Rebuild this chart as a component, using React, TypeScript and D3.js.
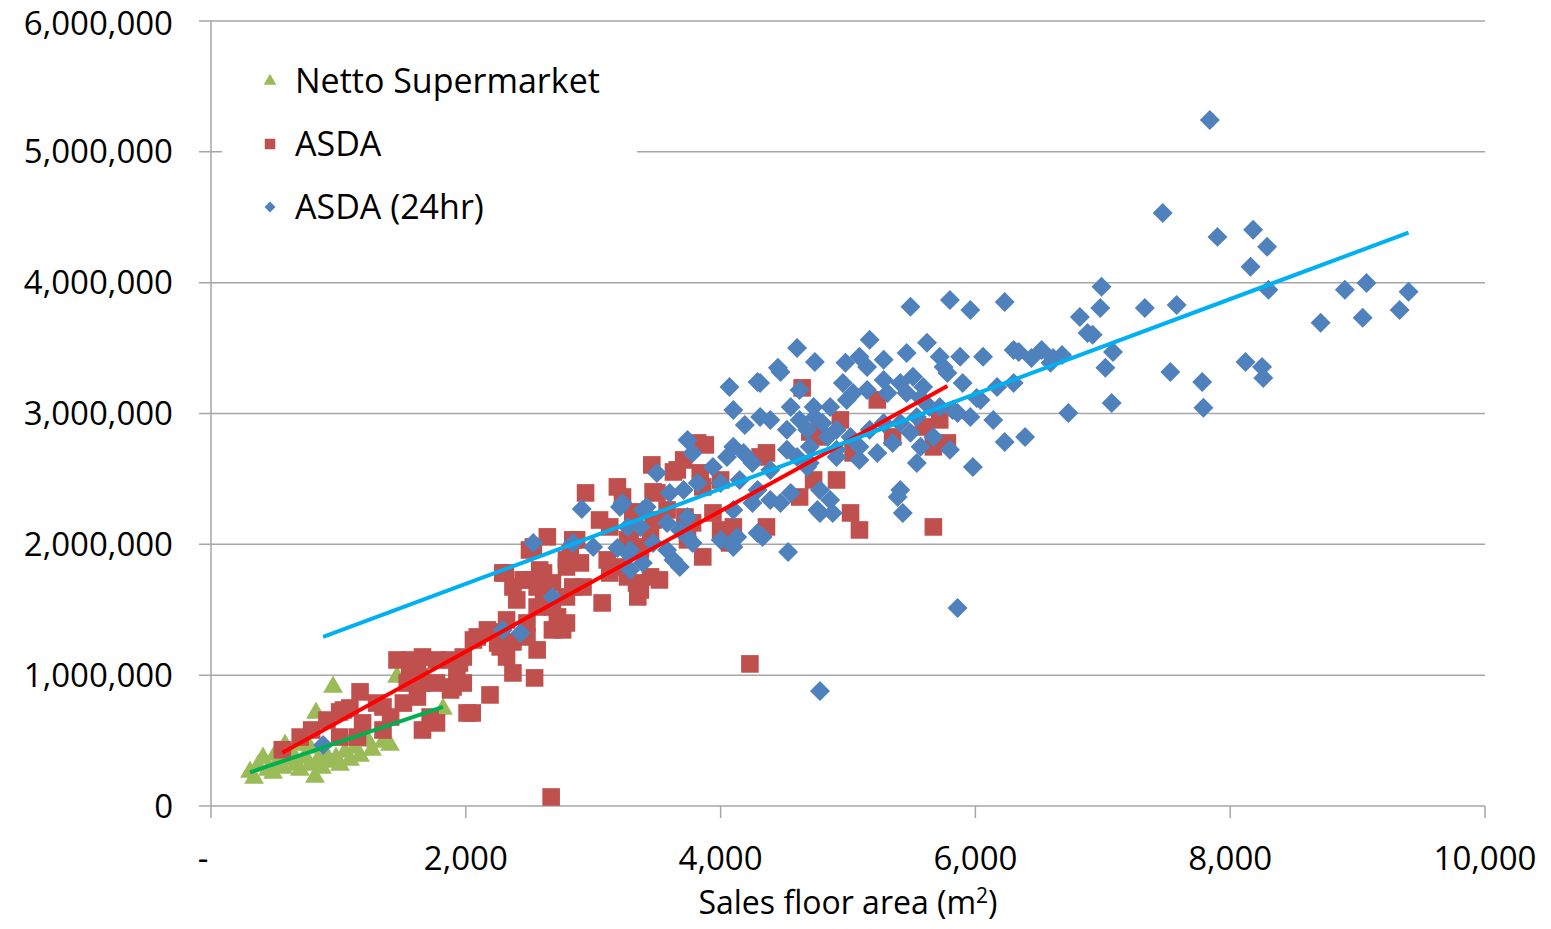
import * as d3 from 'd3';

// sales floor area (m2), weekly sales
const nettoPoints: [number, number][] = [
  [306, 260000], [338, 214000], [369, 306000], [408, 367000], [447, 275000], [487, 252000],
  [526, 336000], [565, 291000], [604, 352000], [636, 405000], [667, 313000], [699, 275000],
  [738, 367000], [777, 313000], [816, 222000], [824, 711000], [840, 352000], [871, 291000],
  [903, 390000], [934, 336000], [958, 910000], [981, 367000], [1013, 313000], [1052, 413000],
  [1091, 352000], [1130, 443000], [1170, 382000], [1232, 497000], [1264, 428000], [1350, 489000],
  [1405, 466000], [1460, 986000], [1821, 742000], [581, 466000], [699, 466000], [502, 390000],
  [777, 443000], [1052, 505000],
];

const asdaPoints: [number, number][] = [
  [560, 430000], [700, 527000], [790, 581000], [910, 657000], [1010, 719000], [1090, 749000],
  [1170, 872000], [1190, 635000], [1150, 527000], [1010, 527000], [1300, 787000], [1350, 757000],
  [1410, 680000], [1510, 787000], [1460, 1116000], [1560, 1116000], [1660, 1139000], [1770, 1116000],
  [1880, 1116000], [1980, 1139000], [1560, 986000], [1660, 940000], [1620, 833000], [1770, 940000],
  [1880, 887000], [1980, 940000], [1720, 680000], [1770, 635000], [1660, 581000], [1350, 581000],
  [2010, 711000], [1620, 1040000], [1930, 1017000], [1040, 734000], [1540, 940000], [1640, 986000],
  [1900, 910000], [2190, 849000], [2050, 711000], [2540, 979000], [2320, 1139000], [2370, 1017000],
  [2270, 1216000], [2090, 1292000], [2190, 1330000], [2370, 1254000], [2480, 1292000], [2560, 1193000],
  [2720, 1399000], [2760, 1346000], [2320, 1422000], [2290, 1781000], [2370, 1674000], [2400, 1575000],
  [2480, 1728000], [2580, 1804000], [2640, 2057000], [2530, 1980000], [2790, 1827000], [2840, 1674000],
  [2820, 1934000], [2610, 1628000], [2680, 1521000], [2940, 2393000], [3190, 2439000], [3230, 2362000],
  [3050, 2186000], [3130, 2133000], [2500, 1957000], [2870, 2034000], [2310, 1781000], [2450, 1728000],
  [2610, 1781000], [2790, 1881000], [2900, 1858000], [2920, 1674000], [2560, 1674000], [2680, 1705000],
  [2790, 1598000], [2560, 1521000], [2720, 1445000], [2790, 1399000], [2680, 1346000], [3070, 1552000],
  [2480, 1399000], [3130, 1781000], [3210, 1827000], [3370, 1651000], [3450, 1751000], [3370, 1957000],
  [3450, 2057000], [3270, 2034000], [2060, 1269000], [2170, 1346000], [2250, 1246000], [1950, 1093000],
  [3460, 2607000], [3880, 2760000], [3710, 2645000], [3630, 2553000], [3470, 2401000], [3840, 2546000],
  [2840, 2034000], [3110, 1881000], [3340, 1980000], [3470, 2186000], [3580, 2263000], [3780, 2164000],
  [3940, 2240000], [4100, 2133000], [3860, 1904000], [3520, 1728000], [3340, 1705000], [3350, 1598000],
  [4360, 2133000], [4310, 2668000], [4640, 3196000], [3660, 2569000], [3500, 2393000], [3310, 2248000],
  [3720, 2209000], [3860, 2439000], [4000, 2492000], [4360, 2699000], [4730, 2492000], [4000, 2110000],
  [4070, 2011000], [3740, 2034000], [3290, 2057000], [3270, 1751000], [5230, 3104000], [4940, 2951000],
  [4760, 2821000], [5350, 2821000], [5720, 2951000], [5590, 2897000], [5780, 2775000], [5670, 2745000],
  [5040, 2699000], [4910, 2492000], [4620, 2362000], [5020, 2240000], [5090, 2110000], [5670, 2133000],
  [4230, 1086000], [2670, 69000], [4700, 2859000], [3820, 2775000],
];

const asda24Points: [number, number][] = [
  [880, 466000], [2530, 2011000], [2840, 2011000], [2680, 1598000], [2290, 1346000], [2430, 1323000],
  [2910, 2271000], [3000, 1980000], [3190, 1972000], [3270, 1934000], [3210, 2286000], [3370, 2133000],
  [3420, 2286000], [3390, 1858000], [3290, 1804000], [4070, 3203000], [4310, 3234000], [4100, 3027000],
  [4190, 2913000], [4310, 2974000], [4390, 2951000], [3740, 2798000], [3780, 2699000], [3500, 2546000],
  [3600, 2393000], [3710, 2416000], [3820, 2469000], [3940, 2592000], [4050, 2668000], [4100, 2745000],
  [4180, 2699000], [4250, 2622000], [4390, 2569000], [4000, 2469000], [4150, 2492000], [4290, 2416000],
  [4390, 2339000], [3390, 2263000], [3580, 2164000], [3680, 2110000], [3740, 2209000], [4100, 2263000],
  [4250, 2316000], [3470, 2011000], [3580, 1957000], [3630, 1881000], [3680, 1827000], [3780, 2011000],
  [4000, 2034000], [4100, 1980000], [4130, 2057000], [4290, 2087000], [4330, 2057000], [3740, 2057000],
  [4470, 3318000], [4550, 3050000], [4620, 2951000], [4520, 2875000], [4680, 2875000], [4740, 2974000],
  [4520, 2722000], [4600, 2668000], [4700, 2622000], [4550, 2393000], [4470, 2316000], [4760, 2263000],
  [4530, 1942000], [3230, 2316000], [3270, 2133000], [3290, 1957000], [4600, 3501000], [4740, 3394000],
  [4450, 3349000], [4290, 3241000], [5490, 3815000], [5800, 3868000], [5960, 3792000], [5170, 3563000],
  [4980, 3387000], [5090, 3433000], [5150, 3356000], [5280, 3410000], [5460, 3463000], [5620, 3540000],
  [5720, 3433000], [5880, 3433000], [6060, 3433000], [5750, 3356000], [4620, 3180000], [4960, 3234000],
  [5040, 3157000], [5150, 3180000], [5280, 3257000], [5410, 3234000], [5510, 3280000], [5590, 3203000],
  [5310, 3157000], [5460, 3157000], [5780, 3310000], [5900, 3234000], [6040, 3104000], [6170, 3203000],
  [4730, 3050000], [4860, 3050000], [4990, 3104000], [4800, 2928000], [4910, 2875000], [5020, 2821000],
  [5170, 2875000], [5280, 2928000], [5410, 2928000], [5540, 2974000], [5640, 3050000], [5820, 3027000],
  [5960, 2974000], [6140, 2951000], [4700, 2745000], [4840, 2821000], [4910, 2722000], [5090, 2745000],
  [5230, 2699000], [5350, 2775000], [5490, 2852000], [5570, 2745000], [5670, 2821000], [5800, 2722000],
  [4680, 2592000], [4910, 2668000], [5090, 2645000], [5540, 2622000], [5980, 2592000], [4780, 2416000],
  [4860, 2339000], [4780, 2240000], [4880, 2240000], [5390, 2362000], [5410, 2416000], [5430, 2240000],
  [6230, 3853000], [6990, 3968000], [6980, 3807000], [6820, 3738000], [7330, 3807000], [7580, 3830000],
  [6300, 3486000], [6340, 3471000], [6440, 3425000], [6520, 3486000], [6610, 3425000], [6680, 3448000],
  [6880, 3616000], [6920, 3601000], [7080, 3471000], [7020, 3349000], [7530, 3318000], [6300, 3234000],
  [7070, 3081000], [6730, 3004000], [6010, 3119000], [5860, 3004000], [6230, 2783000], [6390, 2821000],
  [5860, 1514000], [7840, 5244000], [7470, 4533000], [7900, 4350000], [8180, 4404000], [8290, 4274000],
  [8160, 4121000], [8300, 3945000], [8900, 3945000], [9070, 3998000], [9400, 3930000], [9330, 3792000],
  [9040, 3731000], [8710, 3693000], [6590, 3387000], [7780, 3241000], [8120, 3394000], [8250, 3356000],
  [8260, 3272000], [7790, 3043000], [4780, 879000], [5570, 3119000], [5720, 3050000],
];

// linear trendlines [slope, intercept]
const nettoTrend = [329.7, 156600];
const asdaTrend = [537.2, 105800];
const asda24Trend = [362.7, 973000];

const xTicks = [0, 2000, 4000, 6000, 8000, 10000];
const yTicks = [0, 1000000, 2000000, 3000000, 4000000, 5000000, 6000000];
const legendLabels = ['Netto Supermarket', 'ASDA', 'ASDA (24hr)'];

const FONT = '"Open Sans", "Liberation Sans", sans-serif';

export default function App() {
  const width = 1551;
  const height = 929;
  const x = d3.scaleLinear().domain([0, 10000]).range([211, 1485]);
  const y = d3.scaleLinear().domain([0, 6000000]).range([806, 21]);
  const fmt = d3.format(',');

  const triPath = d3.symbol(d3.symbolTriangle, 170)() as string;
  const sqPath = d3.symbol(d3.symbolSquare, 310)() as string;
  const diaPath = d3.symbol(d3.symbolSquare, 200)() as string;

  const trend = (pts: [number, number][], coef: number[]) => {
    const [x0, x1] = d3.extent(pts, d => d[0]) as [number, number];
    return d3.line<number>()
      .x(v => x(v))
      .y(v => y(coef[0] * v + coef[1]))([x0, x1]) as string;
  };

  const series = [
    { label: legendLabels[0], pts: nettoPoints, coef: nettoTrend, color: '#9BBB59', line: '#00B050', path: triPath, rot: 0 },
    { label: legendLabels[1], pts: asdaPoints, coef: asdaTrend, color: '#C0504D', line: '#FF0000', path: sqPath, rot: 0 },
    { label: legendLabels[2], pts: asda24Points, coef: asda24Trend, color: '#4F81BD', line: '#00B0F0', path: diaPath, rot: 45 },
  ];

  const legendSymbols = [
    d3.symbol(d3.symbolTriangle, 70)() as string,
    d3.symbol(d3.symbolSquare, 110)() as string,
    d3.symbol(d3.symbolSquare, 60)() as string,
  ];

  return (
    <svg width={width} height={height} style={{ position: 'absolute', left: 0, top: 0, background: '#fff' }}
      fontFamily={FONT}>
      <rect width={width} height={height} fill="#fff" />
      {yTicks.map(t => (
        <g key={t}>
          <line x1={199} x2={x(10000)} y1={y(t)} y2={y(t)} stroke="#a6a6a6" strokeWidth={1.5} />
          <text x={173} y={t === 6000000 ? y(t) + 2 : y(t)} dy="0.35em" textAnchor="end" fontSize={33} fill="#000">{fmt(t)}</text>
        </g>
      ))}
      <line x1={x(0)} x2={x(0)} y1={y(6000000)} y2={y(0)} stroke="#a6a6a6" strokeWidth={1.5} />
      {xTicks.map(t => (
        <g key={t}>
          <line x1={x(t)} x2={x(t)} y1={y(0)} y2={y(0) + 12} stroke="#a6a6a6" strokeWidth={1.5} />
          <text x={t === 0 ? x(t) - 8 : x(t)} y={858} dy="0.35em" textAnchor="middle" fontSize={33} fill="#000">
            {t === 0 ? '-' : fmt(t)}
          </text>
        </g>
      ))}
      <text x={848} y={903} dy="0.35em" textAnchor="middle" fontSize={32} fill="#000">
        Sales floor area (m<tspan fontSize={21} dy="-11">2</tspan><tspan dy="11">)</tspan>
      </text>

      {series.map(s => (
        <g key={s.label}>
          {s.pts.map((p, i) => (
            <path key={i} d={s.path} fill={s.color}
              transform={`translate(${x(p[0])},${y(p[1])}) rotate(${s.rot})`} />
          ))}
        </g>
      ))}
      {series.map(s => (
        <path key={s.label + '-trend'} d={trend(s.pts, s.coef)} fill="none" stroke={s.line} strokeWidth={4} />
      ))}

      <rect x={222} y={48} width={415} height={190} fill="#fff" />
      {series.map((s, i) => (
        <g key={s.label + '-legend'} transform={`translate(270,${81 + i * 63})`}>
          <path d={legendSymbols[i]} fill={s.color} transform={`rotate(${s.rot})`} />
          <text x={25} dy="0.35em" fontSize={34} fill="#000">{s.label}</text>
        </g>
      ))}
    </svg>
  );
}
